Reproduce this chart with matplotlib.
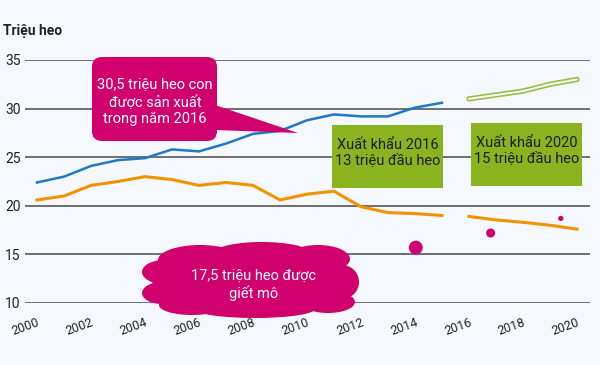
import matplotlib
matplotlib.use('Agg')
import matplotlib.pyplot as plt
from matplotlib.patches import FancyBboxPatch, Polygon, Ellipse, Rectangle

plt.rcParams['font.family'] = ['Roboto', 'DejaVu Sans']

# данные
years = list(range(2000, 2016))
piglets = [22.4, 23.0, 24.1, 24.7, 24.9, 25.8, 25.6, 26.4, 27.4, 27.7, 28.8, 29.4, 29.2, 29.2, 30.1, 30.6]
slaughter = [20.6, 21.0, 22.1, 22.5, 23.0, 22.7, 22.1, 22.4, 22.1, 20.6, 21.2, 21.5, 19.9, 19.3, 19.2, 19.0]

proj_years = [2016, 2017, 2018, 2019, 2020]
proj_piglets = [31.0, 31.4, 31.8, 32.5, 33.0]
proj_slaughter = [18.9, 18.55, 18.3, 18.0, 17.6]

dot_x = [2014.03, 2016.8, 2019.4, 2013.07]
dot_y = [15.7, 17.2, 18.7, 23.4]
dot_s = [100, 42, 14, 2]
dot_c = ['#d1006f', '#d1006f', '#d1006f', '#d9704f']

y_ticks = [10, 15, 20, 25, 30, 35]
x_ticks = list(range(2000, 2021, 2))

bg = '#f5f8fc'
blue = '#1f78c8'
orange = '#f39200'
magenta = '#d1006f'
green = '#8bb31f'

fig = plt.figure(figsize=(6, 3.65), dpi=100, facecolor=bg)
ax = fig.add_axes([25 / 600, 62 / 365, 565 / 600, 243 / 365])
ax.set_facecolor(bg)

ax.plot(years, piglets, color=blue, lw=1.8, zorder=3)
ax.plot(years, slaughter, color=orange, lw=2.2, zorder=3)
# прогноз: полая зелёная линия
ax.plot(proj_years, proj_piglets, color='#93c03a', lw=3.8, solid_capstyle='round', zorder=3)
ax.plot(proj_years, proj_piglets, color=bg, lw=1.5, solid_capstyle='round', zorder=4)
ax.plot(proj_years, proj_slaughter, color=orange, lw=2.2, zorder=3)
ax.scatter(dot_x, dot_y, s=dot_s, c=dot_c, linewidths=0, zorder=5)

ax.set_xlim(2000 - 12 / 27, 2020 + 13 / 27)
ax.set_ylim(10, 35)
ax.set_yticks(y_ticks)
ax.set_xticks(x_ticks)
ax.yaxis.grid(True, color='#4a4a4a', lw=1.1)
ax.set_axisbelow(True)
for s in ax.spines.values():
    s.set_visible(False)
ax.tick_params(axis='y', length=0, pad=3, labelsize=10, labelcolor='#222222')
ax.tick_params(axis='x', length=0, pad=9, labelsize=9, labelcolor='#222222')
for lbl in ax.get_xticklabels():
    lbl.set_rotation(20)
    lbl.set_ha('right')
    lbl.set_va('top')
    lbl.set_rotation_mode('anchor')

fig.text(3 / 600, 1 - 31 / 365, 'Triệu heo', fontsize=10, fontweight='bold', color='#222222', va='center')

# слой аннотаций в пикселях
ov = fig.add_axes([0, 0, 1, 1])
ov.set_xlim(0, 600)
ov.set_ylim(365, 0)
ov.axis('off')

# выноска
ov.add_patch(Polygon([(215, 105), (298, 133), (215, 130)], closed=True, color=magenta, lw=0))
ov.add_patch(FancyBboxPatch((102, 67), 105, 64, boxstyle='round,pad=10,rounding_size=10',
                            color=magenta, lw=0))
ov.text(155, 102, '30,5 triệu heo con\nđược sản xuất\ntrong năm 2016', color='white', fontsize=10.5,
        ha='center', va='center', linespacing=1.25)

# облако
cloud = [(252, 280, 200, 64), (200, 260, 84, 30), (262, 253, 96, 22), (318, 259, 64, 28),
         (164, 272, 44, 24), (162, 293, 40, 22), (342, 282, 34, 34), (328, 302, 54, 22),
         (255, 309, 120, 18), (192, 305, 66, 20)]
for cx, cy, w, h in cloud:
    ov.add_patch(Ellipse((cx, cy), w, h, color=magenta, lw=0))
ov.text(254, 285, '17,5 triệu heo được\ngiết mô', color='white', fontsize=10.5,
        ha='center', va='center', linespacing=1.2)

# зелёные блоки
for x0, y0, txt in [(332, 125, 'Xuất khẩu 2016\n13 triệu đầu heo'),
                    (471, 123, 'Xuất khẩu 2020\n15 triệu đầu heo')]:
    ov.add_patch(Rectangle((x0, y0), 111, 63, color=green, lw=0))
    ov.text(x0 + 55.5, y0 + 28, txt, color='#1e1e1e', fontsize=10.5, ha='center', va='center',
            linespacing=1.15)

fig.savefig('out.png', dpi=100, facecolor=bg)
